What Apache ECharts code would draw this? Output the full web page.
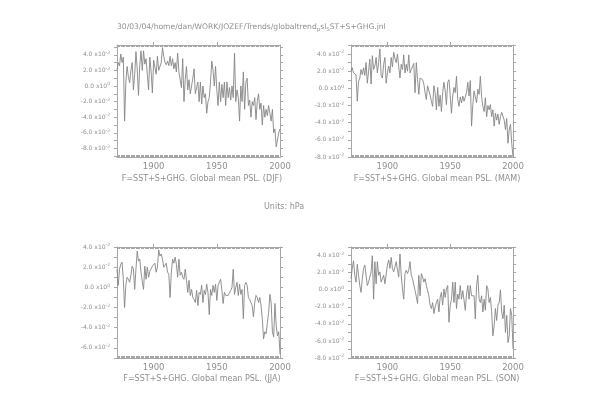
<!DOCTYPE html>
<html>
<head>
<meta charset="utf-8">
<script src="https://cdn.jsdelivr.net/npm/echarts@6/dist/echarts.min.js"></script>
<style>
html,body{margin:0;padding:0;background:#fff;}
#chart{width:589px;height:416px;}
</style>
</head>
<body>
<div id="chart"></div>
<script>
// Years 1871..2000
const startYear = 1871;
const endYear = 2000;
// Values in units of 1e-2 hPa
const djf = [
 2.0, 3.0, 2.6, 4.1, 3.0, 3.7, -4.5, 0.5, 2.5, 1.2,
 0.4, 2.0, 3.0, -0.5, 1.5, 4.4, 2.2, -1.2, 2.6, 4.5,
 2.0, 4.5, 2.8, 3.5, 1.5, -0.5, 3.7, 1.8, -0.9, 3.3,
 2.4, 1.5, 3.8, 2.0, 1.8, 3.0, 4.9, 3.8, 3.0, 2.7,
 3.2, 2.6, 3.8, 2.6, 3.5, 2.2, 3.0, 1.8, 4.2, 1.8,
 1.8, -0.2, 3.5, -2.0, 0.8, 2.5, -0.5, 0.8, -1.0, 0.0,
 1.0, 2.2, -1.0, -0.2, 0.5, -2.0, 0.5, -2.3, 0.0, -1.5,
 -1.0, -3.5, -2.0, -1.5, 0.5, 3.2, 2.0, 0.0, 2.5, -0.5,
 -2.5, 0.5, -2.0, 0.2, -1.5, 0.5, -2.5, 0.5, -1.5, -0.2,
 -1.8, 0.0, -1.5, 4.2, -2.0, -0.5, -1.5, -4.5, 0.0, -2.0,
 1.8, -3.0, 0.5, 1.0, -2.5, -1.8, -4.0, -2.0, -2.5, -1.5,
 -4.3, -2.0, -1.0, -3.0, -2.2, -5.0, -2.5, -4.0, -3.0, -3.8,
 -2.5, -3.5, -4.5, -3.0, -6.0, -5.5, -7.8, -8.0, -6.0, -5.5
];
const mam = [
 2.0, 2.4, 1.8, 1.7, 1.6, -1.5, 0.8, 1.2, 2.2, 1.6,
 2.4, 1.5, 3.0, 0.6, 2.0, 3.4, 0.5, 3.8, 2.2, 2.6,
 3.6, 1.8, 3.0, 4.6, 1.5, 1.2, 2.8, 3.6, 0.6, 1.8,
 2.6, 1.8, 3.6, 2.5, 4.2, 3.5, 3.0, 4.0, 2.5, 1.2,
 2.8, 2.2, 3.9, 1.8, 2.8, 2.0, 3.9, 1.8, 2.2, 2.0,
 2.9, -0.5, 3.0, 1.0, -0.7, 1.2, 1.2, 1.0, 0.5, -0.5,
 -1.3, 0.3, 0.1, -0.8, -1.5, -2.1, 0.3, -0.5, -2.5, 0.1,
 -2.1, -0.8, -2.7, -0.5, 0.7, -0.3, -1.9, 0.7, 1.0, -0.8,
 -2.9, -0.9, 0.1, -0.5, 1.4, -1.3, -2.1, -1.0, -1.7, -0.9,
 -1.5, -1.0, -0.5, 0.7, -0.9, 0.9, -4.4, -1.9, -0.3, -1.0,
 -1.7, -0.1, -0.7, 1.4, -1.0, -2.1, -2.7, -1.1, -3.3, -2.0,
 -2.5, -1.9, -3.3, -2.5, -4.4, -2.9, -3.7, -3.0, -4.2, -3.3,
 -2.8, -3.0, -3.7, -4.8, -3.5, -6.4, -4.8, -4.2, -6.4, -8.0
];
const jja = [
 1.8, 0.2, 1.8, 2.3, 2.5, 0.8, -2.0, 0.2, 1.0, 0.8,
 0.5, 1.2, 2.1, 1.8, -0.2, 1.8, 3.6, 2.6, 2.8, 1.5,
 0.6, -0.2, 2.1, 0.8, 2.0, 1.0, 1.6, 1.5, 2.1, 2.2,
 2.4, 1.5, 2.0, 3.7, 3.1, 3.3, 2.8, 2.0, 2.2, 2.4,
 1.5, 1.3, -1.0, 1.5, 2.8, 2.4, 3.0, 2.3, 1.0, 2.8,
 1.2, 1.5, 1.0, 0.8, 1.8, 0.7, -0.5, 0.7, -0.8, -0.2,
 -1.0, -1.2, -1.5, -0.3, -1.8, -0.5, -0.7, 0.2, -1.5, -0.3,
 -0.7, 0.3, -0.5, -2.7, -0.2, -0.8, 0.2, -0.5, 0.3, -1.3,
 0.2, 0.5, 0.8, -0.3, -1.6, -0.5, -0.8, -0.7, -0.8, -0.7,
 -0.3, 0.0, 1.8, -0.7, 0.0, 0.5, -0.8, 0.3, -0.7, -0.2,
 -3.1, 0.2, 0.5, 0.2, -1.0, -1.2, -1.5, -1.8, -2.9, -1.5,
 -0.8, -1.0, -1.5, -1.0, -1.8, -3.1, -5.1, -4.4, -4.6, -3.5,
 -2.5, -0.7, -1.5, -4.4, -4.9, -1.6, -3.8, -4.8, -4.4, -6.6
];
const son = [
 1.3, 2.5, 3.4, 1.7, 0.9, 3.0, 1.7, 0.5, -0.3, 1.3,
 2.5, 2.9, 1.7, 0.5, 0.9, 1.5, 2.1, 4.0, -1.1, 3.3,
 0.7, 3.3, 1.7, 2.1, 0.9, 1.3, 1.7, 0.7, 0.5, 2.9,
 3.5, 2.5, 3.8, 2.5, 2.1, 2.7, 3.3, 2.3, 1.5, 4.2,
 1.7, 0.1, -1.1, 1.9, 2.3, 1.9, 2.3, 3.3, 1.7, 1.3,
 1.1, -0.1, -0.8, -1.6, 1.7, -0.7, 1.9, 1.5, 0.9, 1.3,
 0.5, 0.7, -0.7, -1.8, -2.2, -1.5, -2.8, -2.0, -1.5, -1.1,
 -2.6, -0.9, -0.3, -1.8, 0.1, -0.9, 0.1, 0.5, -3.8, -1.8,
 -1.1, 0.9, -1.5, 0.9, -2.2, -0.5, -1.1, 0.5, -1.1, -0.1,
 -1.2, -2.4, -0.5, 0.5, -1.1, 0.5, -0.7, -0.6, -0.7, -3.4,
 0.5, 1.7, -1.1, -1.5, -0.7, -2.6, -1.1, -2.4, 0.5, 0.1,
 -1.5, -0.9, -2.6, -5.4, -4.2, -2.2, -3.6, -1.8, -1.5, 0.0,
 -2.6, -3.4, -1.8, -5.0, -3.0, -6.2, -5.4, -2.2, -3.0, -6.9
];
const xTickLabels = [1900, 1950, 2000];
const seasons = ['DJF', 'MAM', 'JJA', 'SON'];
const captionPrefix = 'F=SST+S+GHG. Global mean PSL. ';
const yLabelsDJF = [4, 2, 0, -2, -4, -6, -8];
const yLabelsMAM = [4, 2, 0, -2, -4, -6, -8];
const yLabelsJJA = [4, 2, 0, -2, -4, -6];
const yLabelsSON = [4, 2, 0, -2, -4, -6, -8];

const seriesValues = [djf, mam, jja, son];
const yLabelSets = [yLabelsDJF, yLabelsMAM, yLabelsJJA, yLabelsSON];

// layout (pixels) and axis ranges
const panels = [
  {left: 117, top: 45, width: 163, height: 112, ymin: -9.1, ymax: 5.25, capX: 197, capY: 176},
  {left: 351, top: 45, width: 162, height: 112, ymin: -8, ymax: 5.05, capX: 432, capY: 176},
  {left: 117, top: 247, width: 163, height: 111, ymin: -7, ymax: 4, capX: 197, capY: 376},
  {left: 351, top: 247, width: 162, height: 111, ymin: -8, ymax: 5.02, capX: 432, capY: 376}
];

const AX = '#a6a6a6';
const TX = '#8f8f8f';
const LN = '#858585';
const FONT = 'DejaVu Sans';

const years = [];
for (let y = startYear; y <= endYear; y++) years.push(y);

const grids = [], xAxes = [], yAxes = [], series = [], titles = [];

titles.push({
  text: '30/03/04/home/dan/WORK/JOZEF/Trends/globaltrend{s|p}sl{s|S}ST+S+GHG.jnl',
  left: 112, top: 17,
  textStyle: {
    fontFamily: FONT, fontSize: 7.6, fontWeight: 'normal', color: TX,
    rich: {s: {fontFamily: FONT, fontSize: 5.5, color: TX, padding: [5, 0, 0, 0]}}
  }
});
titles.push({
  text: 'Units: hPa', left: 259, top: 198,
  textStyle: {fontFamily: FONT, fontSize: 8, fontWeight: 'normal', color: TX}
});

panels.forEach((p, i) => {
  grids.push({left: p.left, top: p.top, width: p.width, height: p.height, containLabel: false});
  const intTicks = [];
  for (let v = Math.ceil(p.ymin); v <= Math.floor(p.ymax); v++) intTicks.push(v);
  const xb = xAxes.length;
  // bottom axis
  xAxes.push({
    type: 'value', gridIndex: i, position: 'bottom', min: startYear, max: endYear,
    axisLine: {show: true, onZero: false, lineStyle: {color: AX, width: 1}},
    axisTick: {show: true, inside: true, length: 2, customValues: years, lineStyle: {color: AX}},
    axisLabel: {show: true, customValues: xTickLabels, margin: 5, color: TX, fontFamily: FONT, fontSize: 8.5,
      formatter: v => String(v)},
    splitLine: {show: false}
  });
  // top axis
  xAxes.push({
    type: 'value', gridIndex: i, position: 'top', min: startYear, max: endYear,
    axisLine: {show: true, onZero: false, lineStyle: {color: AX, width: 1}},
    axisTick: {show: true, inside: true, length: 2, customValues: years, lineStyle: {color: AX}},
    axisLabel: {show: false},
    splitLine: {show: false}
  });
  // top major ticks outward
  xAxes.push({
    type: 'value', gridIndex: i, position: 'top', min: startYear, max: endYear,
    axisLine: {show: false, onZero: false},
    axisTick: {show: true, inside: false, length: 3, customValues: [1900, 1950], lineStyle: {color: AX}},
    axisLabel: {show: false},
    splitLine: {show: false}
  });
  const yl = yAxes.length;
  yAxes.push({
    type: 'value', gridIndex: i, position: 'left', min: p.ymin, max: p.ymax,
    axisLine: {show: true, onZero: false, lineStyle: {color: AX, width: 1}},
    axisTick: {show: true, inside: false, length: 3, customValues: intTicks, lineStyle: {color: AX}},
    axisLabel: {
      show: true, customValues: yLabelSets[i], margin: 7, color: TX, fontFamily: FONT, fontSize: 6,
      formatter: v => v === 0 ? '{b|0.0 x10}{s|0}' : '{b|' + v.toFixed(1) + ' x10}{s|-2}',
      rich: {
        b: {fontFamily: FONT, fontSize: 6, color: TX},
        s: {fontFamily: FONT, fontSize: 4.5, color: TX, padding: [0, 0, 4, 0]}
      }
    },
    splitLine: {show: false}
  });
  yAxes.push({
    type: 'value', gridIndex: i, position: 'right', min: p.ymin, max: p.ymax,
    axisLine: {show: true, onZero: false, lineStyle: {color: AX, width: 1}},
    axisTick: {show: true, inside: false, length: 3, customValues: intTicks, lineStyle: {color: AX}},
    axisLabel: {show: false},
    splitLine: {show: false}
  });
  series.push({
    type: 'line', xAxisIndex: xb, yAxisIndex: yl,
    data: seriesValues[i].map((v, k) => [startYear + k, v]),
    showSymbol: false, symbol: 'none', silent: true, animation: false,
    lineStyle: {color: LN, width: 0.9}
  });
  titles.push({
    text: captionPrefix + '(' + seasons[i] + ')',
    left: p.capX, top: p.capY - 6, textAlign: 'center',
    textStyle: {fontFamily: FONT, fontSize: 8, fontWeight: 'normal', color: TX}
  });
});

const chart = echarts.init(document.getElementById('chart'), null, {renderer: 'canvas'});
chart.setOption({
  backgroundColor: '#ffffff',
  animation: false,
  title: titles,
  grid: grids,
  xAxis: xAxes,
  yAxis: yAxes,
  series: series
});
</script>
</body>
</html>
